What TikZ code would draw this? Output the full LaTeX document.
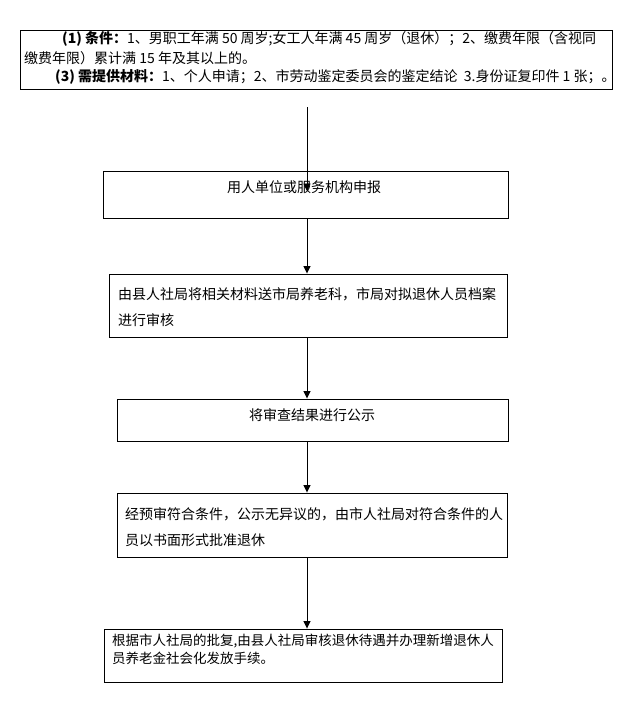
\documentclass[tikz,border=0pt]{standalone}
\usepackage{fontspec}
\setmainfont{Noto Sans CJK SC}
\usetikzlibrary{arrows.meta}
\begin{document}
\begin{tikzpicture}[x=1pt,y=-1pt,
  box/.style={draw,line width=0.9pt,inner sep=0pt},
  txt/.style={inner sep=0pt,font=\fontsize{14}{26}\selectfont},
  toptxt/.style={inner sep=0pt,anchor=west,font=\fontsize{14}{19}\selectfont},
  arr/.style={line width=0.9pt,-{Triangle[width=7pt,length=7.5pt]}}]
\useasboundingbox (0,0) rectangle (641,707);
% top info box
\draw[box] (20,30) rectangle (612,89);
\node[toptxt] (l1) at (62,39) {\textbf{(1)\ 条件：}1、男职工年满\ 50\ 周岁;女工人年满\ 45\ 周岁（退休）；2、缴费年限（含视同};
\node[toptxt] (l2) at (24,58) {缴费年限）累计满 15 年及其以上的。};
\node[toptxt] (l3) at (55,77) {\textbf{(3)\ 需提供材料：}1、个人申请；2、市劳动鉴定委员会的鉴定结论\ \ 3.身份证复印件 1 张；。};
% boxes
\node[box,minimum width=405pt,minimum height=47pt] (b1) at (305.5,194.5) {};
\node[txt] (t1) at (304,187) {用人单位或服务机构申报};
\node[box,minimum width=398pt,minimum height=63pt] (b2) at (308,305.5) {};
\node[txt,anchor=north west,align=left] (t2) at (118,287) {由县人社局将相关材料送市局养老科，市局对拟退休人员档案\\进行审核};
\node[box,minimum width=391pt,minimum height=42pt] (b3) at (312.5,420) {};
\node[txt] (t3) at (312,415) {将审查结果进行公示};
\node[box,minimum width=390pt,minimum height=64pt] (b4) at (312,525) {};
\node[txt,anchor=north west,align=left] (t4) at (125,507) {经预审符合条件，公示无异议的，由市人社局对符合条件的人\\员以书面形式批准退休};
\node[box,minimum width=398pt,minimum height=53pt] (b5) at (303,655.5) {};
\node[txt,anchor=north west,align=left,font=\fontsize{13.5}{17.5}\selectfont] (t5) at (112,634) {根据市人社局的批复,由县人社局审核退休待遇并办理新增退休人\\员养老金社会化发放手续。};
% connectors
\coordinate (s0) at (307,107);
\coordinate (e0) at (307,191);
\draw[arr] (s0) -- (e0);
\draw[arr] (b1.south -| s0) -- (b2.north -| s0);
\draw[arr] (b2.south -| s0) -- (b3.north -| s0);
\draw[arr] (b3.south -| s0) -- (b4.north -| s0);
\draw[arr] (b4.south -| s0) -- (b5.north -| s0);
\end{tikzpicture}
\end{document}
